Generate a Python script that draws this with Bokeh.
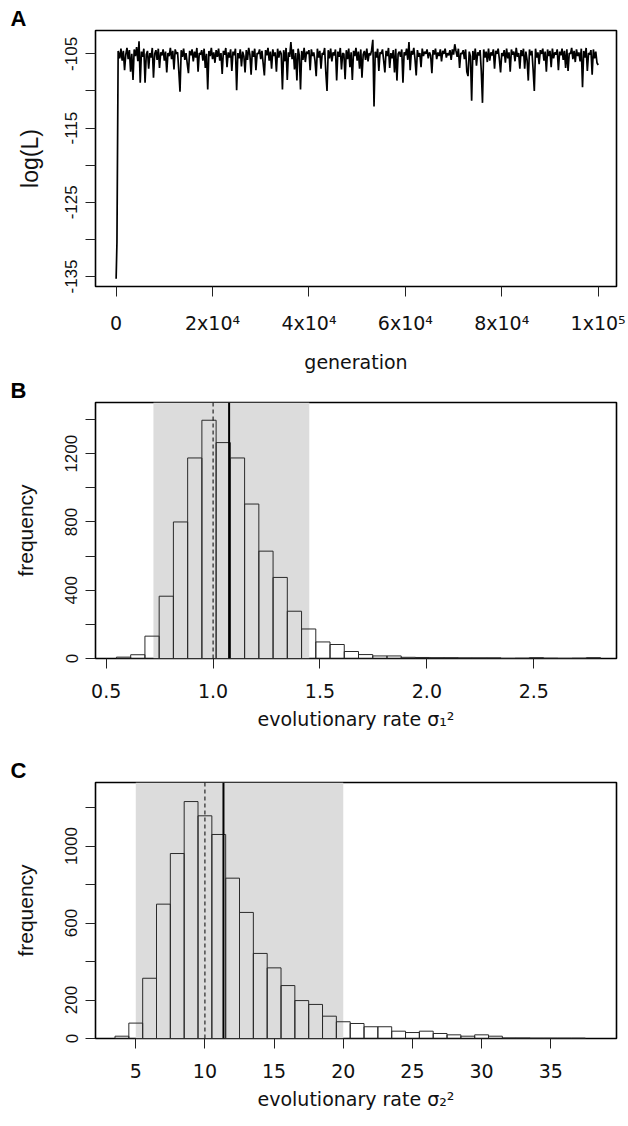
import math
import numpy as np
from bokeh.plotting import figure
from bokeh.layouts import column
from bokeh.models import Range1d, FixedTicker, Span, BoxAnnotation, Title
from bokeh.embed import file_html
from bokeh.resources import INLINE

# ---------------- Panel A data: MCMC trace ----------------
burn_gen = [0, 170, 420]
burn_ll = [-135.3, -130.4, -104.6]
trace_start = 500
trace_step = 250
trace_ll = [
    -104.8, -105.6, -104.3, -105.9, -104.6, -107.2, -105.1, -104.2, -105.7, -104.5, -107.4, -105.0, -108.5, -104.4, -105.3, -104.1, -106.0, -103.3, -108.9, -104.7,
    -105.4, -104.3, -108.9, -105.1, -104.6, -107.0, -104.9, -105.5, -104.2, -108.2, -105.0, -104.5, -105.8, -104.3, -106.9, -104.8, -105.2, -104.4, -105.9, -104.7,
    -107.5, -104.9, -105.3, -104.2, -105.7, -104.6, -107.1, -104.4, -105.0, -104.8, -107.3, -110.1, -104.5, -105.4, -104.3, -105.8, -104.9, -106.3, -107.6, -104.6,
    -105.2, -104.4, -106.0, -104.7, -105.5, -104.2, -107.4, -104.9, -105.1, -104.5, -105.9, -104.3, -106.9, -105.0, -109.8, -104.6, -105.3, -104.2, -105.7, -104.8,
    -106.2, -104.5, -105.4, -104.3, -105.9, -104.9, -107.7, -104.6, -105.1, -104.2, -106.8, -104.8, -105.5, -104.4, -107.3, -104.7, -105.2, -104.3, -109.9, -104.9,
    -105.6, -104.4, -106.7, -104.7, -105.3, -107.5, -104.5, -105.8, -104.2, -105.1, -107.8, -104.6, -105.4, -104.3, -107.2, -104.9, -105.0, -104.4, -105.7, -104.6,
    -106.3, -107.9, -104.5, -105.2, -104.2, -105.9, -104.7, -107.0, -104.4, -105.3, -104.8, -107.4, -104.3, -105.5, -104.6, -105.0, -109.8, -104.5, -106.0, -104.2,
    -108.5, -104.8, -105.4, -103.4, -105.7, -104.4, -107.1, -104.9, -108.6, -104.3, -105.2, -109.8, -104.6, -105.8, -104.2, -106.1, -104.7, -105.0, -104.5, -107.2,
    -104.4, -105.3, -104.8, -105.9, -108.0, -104.3, -105.5, -104.6, -107.0, -104.9, -105.1, -104.2, -107.5, -110.0, -104.5, -105.6, -104.3, -106.0, -104.8, -105.2,
    -104.4, -108.6, -104.7, -105.4, -104.2, -107.1, -104.9, -105.0, -108.4, -104.5, -105.7, -104.3, -106.8, -104.8, -108.5, -104.6, -105.3, -104.2, -105.9, -104.7,
    -107.0, -104.4, -108.2, -105.1, -104.6, -105.8, -104.3, -106.0, -104.9, -105.2, -104.5, -103.1, -112.1, -104.7, -105.5, -104.3, -107.3, -104.8, -105.0, -104.4,
    -105.9, -107.5, -104.6, -105.3, -104.2, -106.9, -104.9, -105.6, -104.5, -107.5, -104.3, -108.6, -105.0, -104.7, -105.4, -104.4, -108.9, -104.8, -105.2, -104.3,
    -105.8, -103.4, -107.2, -104.6, -105.1, -104.2, -105.7, -107.9, -104.5, -105.4, -104.9, -106.8, -104.3, -105.3, -104.7, -105.0, -104.4, -105.6, -104.8, -105.2,
    -107.6, -104.5, -105.1, -104.3, -105.7, -104.8, -105.3, -104.4, -106.0, -104.6, -105.0, -104.3, -105.5, -104.9, -105.2, -104.5, -105.8, -104.4, -105.1, -103.7,
    -104.6, -105.4, -104.3, -106.9, -104.9, -105.0, -104.5, -105.7, -104.4, -107.4, -108.0, -104.7, -105.3, -111.3, -104.6, -105.8, -104.3, -106.6, -104.8, -105.2,
    -104.5, -107.3, -111.6, -104.4, -105.5, -104.7, -106.1, -104.3, -105.9, -104.8, -105.2, -104.4, -107.0, -104.6, -105.0, -104.3, -105.7, -107.5, -104.9, -105.3,
    -104.5, -106.2, -104.3, -105.6, -104.8, -107.4, -104.4, -105.1, -104.7, -106.0, -104.2, -105.4, -104.9, -107.0, -104.5, -105.3, -104.3, -107.0, -104.7, -105.8,
    -108.6, -104.4, -105.2, -104.6, -107.1, -110.0, -104.3, -105.5, -104.8, -106.4, -104.5, -105.0, -104.3, -105.9, -104.7, -107.4, -104.4, -105.3, -104.6, -106.8,
    -104.3, -105.6, -104.8, -105.1, -104.4, -107.2, -104.7, -105.2, -104.3, -105.8, -104.6, -106.9, -104.4, -107.3, -104.9, -105.0, -104.2, -105.7, -104.6, -106.1,
    -104.4, -105.3, -104.8, -106.0, -104.3, -109.5, -104.6, -105.5, -104.2, -107.3, -104.9, -105.1, -104.5, -107.8, -104.4, -105.6, -104.7, -106.2, -106.5,
]
gen_ticks = [0, 20000, 40000, 60000, 80000, 100000]
gen_tick_labels = ["0", "2x10\u2074", "4x10\u2074", "6x10\u2074", "8x10\u2074", "1x10\u2075"]
ll_ticks = [-135, -130, -125, -120, -115, -110, -105]
ll_tick_labels = ["-135", "", "-125", "", "-115", "", "-105"]

# ---------------- Panel B data: sigma1^2 histogram ----------------
s1_bin_start = 0.548
s1_bin_width = 0.0666
s1_counts = [8, 22, 131, 365, 800, 1175, 1396, 1265, 1175, 905, 629, 475, 277, 173, 97, 82,
             41, 23, 15, 15, 7, 6, 5, 5, 4, 4, 4, 1, 2, 5, 2, 1, 2, 5]
s1_true = 1.0
s1_mean = 1.075
s1_ci = [0.721, 1.45]
s1_ticks = [0.5, 1.0, 1.5, 2.0, 2.5]
s1_tick_labels = ["0.5", "1.0", "1.5", "2.0", "2.5"]
freqB_ticks = [0, 200, 400, 600, 800, 1000, 1200, 1400]
freqB_labels = ["0", "", "400", "", "800", "", "1200", ""]

# ---------------- Panel C data: sigma2^2 histogram ----------------
s2_bin_start = 3.5
s2_bin_width = 1.0
s2_counts = [12, 80, 313, 698, 961, 1231, 1157, 1060, 833, 655, 442, 367, 275, 197, 177, 116,
             87, 78, 61, 61, 38, 31, 38, 26, 19, 12, 19, 12, 3, 3, 2, 2, 2, 2]
s2_true = 10.0
s2_mean = 11.34
s2_ci = [5.0, 20.0]
s2_ticks = [5, 10, 15, 20, 25, 30, 35]
s2_tick_labels = ["5", "10", "15", "20", "25", "30", "35"]
freqC_ticks = [0, 200, 400, 600, 800, 1000, 1200]
freqC_labels = ["0", "200", "", "600", "", "1000", ""]

W = 628
HF = "DejaVu Sans"        # horizontal text
VF = "Liberation Sans"    # rotated text
TXT = "#111111"


def style(p, xt, xl, yt, yl, xstand, ystand, ylab_size):
    p.outline_line_color = "black"
    p.outline_line_width = 1.6
    p.grid.visible = False
    p.background_fill_color = "white"
    p.border_fill_color = "white"
    for ax in (p.xaxis[0], p.yaxis[0]):
        ax.axis_line_color = None
        ax.major_tick_in = 0
        ax.major_tick_out = 10
        ax.major_tick_line_color = "#222222"
        ax.major_tick_line_width = 1
        ax.minor_tick_line_color = None
        ax.major_label_text_color = TXT
        ax.axis_label_text_color = TXT
        ax.axis_label_text_font_style = "normal"
    xa, ya = p.xaxis[0], p.yaxis[0]
    xa.ticker = FixedTicker(ticks=xt)
    xa.major_label_overrides = {t: l for t, l in zip(xt, xl)}
    xa.major_label_text_font = HF
    xa.major_label_text_font_size = "19px"
    xa.major_label_standoff = 15
    xa.axis_label_text_font = HF
    xa.axis_label_text_font_size = "19px"
    xa.axis_label_standoff = xstand
    ya.ticker = FixedTicker(ticks=yt)
    ya.major_label_overrides = {t: l for t, l in zip(yt, yl)}
    ya.major_label_orientation = "vertical"
    ya.major_label_text_font = VF
    ya.major_label_text_font_size = "17px"
    ya.major_label_standoff = 8
    ya.axis_label_text_font = VF
    ya.axis_label_text_font_size = ylab_size
    ya.axis_label_standoff = ystand


def letter(txt):
    return Title(text=txt, align="left", offset=-85, standoff=0,
                 text_font="Liberation Sans", text_font_style="bold",
                 text_font_size="22px", text_color="black")


# ---------------- Panel A ----------------
xrA = Range1d(-4280, 103800)
yrA = Range1d(-136.35, -101.85)
pA = figure(width=W, height=375, x_range=xrA, y_range=yrA, output_backend="svg",
            toolbar_location=None, min_border_left=94, min_border_right=11,
            min_border_top=30, min_border_bottom=88, title=letter("A"))
genA = burn_gen + [trace_start + trace_step * i for i in range(len(trace_ll))]
llA = burn_ll + trace_ll
pA.line(genA, llA, line_color="black", line_width=1.7)
style(pA, gen_ticks, gen_tick_labels, ll_ticks, ll_tick_labels, 14, 20, "23px")
pA.xaxis.axis_label = "generation"
pA.yaxis.axis_label = "log(L)"


# ---------------- histogram panel helper ----------------
def hist_panel(xr, yr, start, width, counts, ci, true_v, mean_v, xt, xl, yt, yl, xlabel,
               top, bottom, H, name):
    p = figure(width=W, height=H, x_range=xr, y_range=yr, output_backend="svg",
               toolbar_location=None, min_border_left=95, min_border_right=12,
               min_border_top=top, min_border_bottom=bottom, title=letter(name))
    p.add_layout(BoxAnnotation(left=ci[0], right=ci[1], fill_color="#dcdcdc",
                               fill_alpha=1.0, line_color=None, level="underlay"))
    lefts = [start + width * i for i in range(len(counts))]
    rights = [l + width for l in lefts]
    p.quad(left=lefts, right=rights, bottom=0, top=counts, fill_color=None,
           line_color="#2a2a2a", line_width=1)
    p.add_layout(Span(location=true_v, dimension="height", line_color="black",
                      line_width=1, line_dash="4 3"))
    p.add_layout(Span(location=mean_v, dimension="height", line_color="black",
                      line_width=2))
    style(p, xt, xl, yt, yl, 7, 26, "21px")
    p.xaxis.axis_label = xlabel
    p.yaxis.axis_label = "frequency"
    return p


pB = hist_panel(Range1d(0.45, 2.887), Range1d(0, 1500), s1_bin_start, s1_bin_width, s1_counts,
                s1_ci, s1_true, s1_mean, s1_ticks, s1_tick_labels, freqB_ticks, freqB_labels,
                "evolutionary rate \u03c3\u2081\u00b2", 27, 92, 375, "B")
pC = hist_panel(Range1d(2.09, 39.75), Range1d(0, 1330), s2_bin_start, s2_bin_width, s2_counts,
                s2_ci, s2_true, s2_mean, s2_ticks, s2_tick_labels, freqC_ticks, freqC_labels,
                "evolutionary rate \u03c3\u2082\u00b2", 32, 88, 376, "C")

layout = column(pA, pB, pC, spacing=0)
open("out.html", "w").write(file_html(layout, INLINE))
